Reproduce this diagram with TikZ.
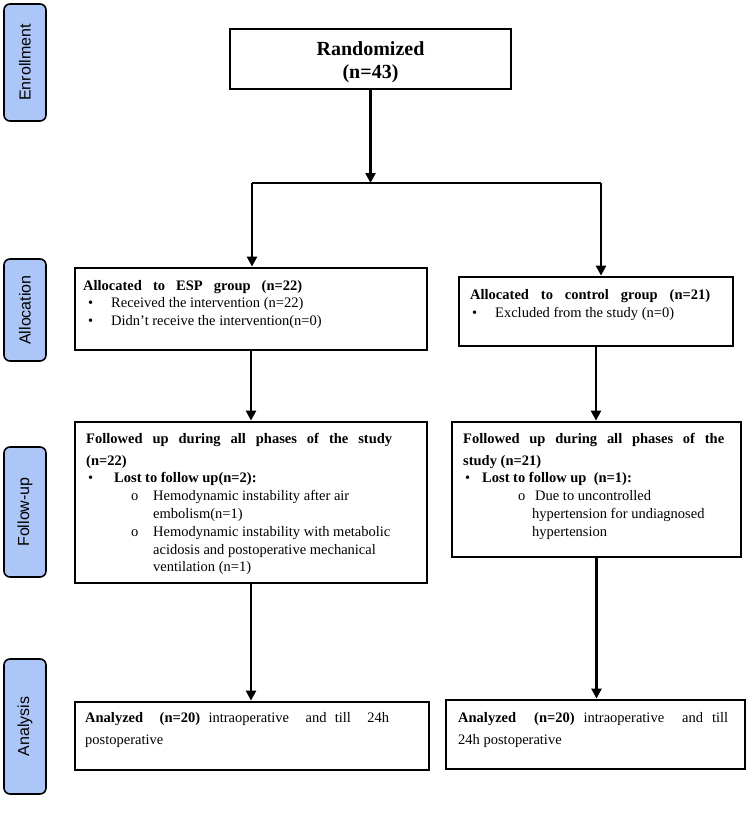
\documentclass[tikz,border=0pt]{standalone}
\usepackage{fontspec}
\setmainfont{Liberation Serif}
\newfontfamily\arialfont{Liberation Sans}
\usetikzlibrary{arrows.meta}
\definecolor{sideblue}{RGB}{173,198,248}
\tikzset{
  box/.style 2 args={draw, line width=2.8pt, rectangle, inner sep=0pt, minimum width=#1, minimum height=#2},
  side/.style={draw, line width=1.6pt, fill=sideblue, rounded corners=6pt, rotate=90, minimum height=42pt, inner sep=0pt, font=\arialfont\fontsize{16}{19}\selectfont},
  txt/.style={anchor=north west, inner sep=0pt, align=left, font=\fontsize{14.5}{17.8}\selectfont},
  ttl/.style={anchor=north, inner sep=0pt, align=center, font=\bfseries\fontsize{20}{23}\selectfont},
  arr/.style={line width=2.6pt, -{Triangle[length=10pt,width=10pt]}},
  hline/.style={line width=1.8pt}
}
\begin{document}
\begin{tikzpicture}[x=1pt,y=-1pt]
\useasboundingbox (0,0) rectangle (750,817);
% phase labels
\node[side, minimum width=117pt] (enr) at (25,62.5) {Enrollment};
\node[side, minimum width=102pt] (alc) at (25,310) {Allocation};
\node[side, minimum width=130pt] (fol) at (25,512) {Follow-up};
\node[side, minimum width=135pt] (ana) at (25,726.5) {Analysis};
% boxes
\node[box={281pt}{60pt}] (rand) at (370.5,59) {};
\node[box={352pt}{82pt}] (esp) at (251,309) {};
\node[box={274pt}{69pt}] (ctl) at (596,311.5) {};
\node[box={352pt}{161pt}] (fu1) at (251,502.5) {};
\node[box={289pt}{135pt}] (fu2) at (596.5,489.5) {};
\node[box={354pt}{68pt}] (an1) at (252,736) {};
\node[box={299pt}{69pt}] (an2) at (595.5,734.5) {};
% texts
\node[ttl] (randt) at (370.5,39.4) {\strut Randomized\\(n=43)};
\node[txt] (espt) at (83,277.5) {\strut\makebox[219pt][s]{\bfseries Allocated to ESP group (n=22)}\\
\hspace*{5pt}\makebox[23pt][l]{•}Received the intervention\ (n=22)\\
\hspace*{5pt}\makebox[23pt][l]{•}Didn’t receive the intervention(n=0)};
\node[txt] (ctlt) at (470,287) {\strut\makebox[240pt][s]{\bfseries Allocated to control group (n=21)}\\
\hspace*{2pt}\makebox[23pt][l]{•}Excluded from the study (n=0)};
\node[txt] (fu1t) at (86,430.8) {\strut\makebox[306pt][s]{\bfseries Followed up during all phases of the study}\\[3.9pt]
\textbf{(n=22)}\\
\hspace*{2pt}\makebox[26pt][l]{•}\textbf{Lost to follow up(n=2):}\\
\hspace*{45pt}\makebox[22pt][l]{o}Hemodynamic\ instability\ after air\\
\hspace*{67pt}embolism(n=1)\\
\hspace*{45pt}\makebox[22pt][l]{o}Hemodynamic\ instability\ with metabolic\\
\hspace*{67pt}acidosis and postoperative mechanical\\
\hspace*{67pt}ventilation\ (n=1)};
\node[txt] (fu2t) at (463,430.8) {\strut\makebox[261pt][s]{\bfseries Followed up during all phases of the}\\[3.9pt]
\textbf{study (n=21)}\\
\hspace*{2pt}\makebox[17pt][l]{•}\textbf{Lost to follow up\ \ (n=1):}\\
\hspace*{55pt}\makebox[17pt][l]{o}Due to uncontrolled\\
\hspace*{69pt}hypertension for undiagnosed\\
\hspace*{69pt}hypertension};
\node[txt] (an1t) at (85,709.5) {\strut\makebox[304pt][s]{\bfseries Analyzed\ \ (n=20)\mdseries\ intraoperative\ \ and till\ \ 24h}\\[4.8pt]
postoperative};
\node[txt] (an2t) at (458,709.5) {\strut\makebox[270pt][s]{\bfseries Analyzed\ \ (n=20)\mdseries\ intraoperative\ \ and till}\\[4.8pt]
24h postoperative};
% connectors
\coordinate (jl) at (252,183);
\coordinate (jr) at (601,183);
\draw[hline] (jl) -- (jr);
\draw[arr] (rand.south) -- (rand.south |- jl);
\draw[arr] (jl) -- (jl |- esp.north);
\draw[arr] (jr) -- (jr |- ctl.north);
\draw[arr] (esp.south) -- (fu1.north);
\draw[arr] (ctl.south) -- (ctl.south |- fu2.north);
\draw[arr] (fu1.south) -- (fu1.south |- an1.north);
\draw[arr] (fu2.south) -- (fu2.south |- an2.north);
\end{tikzpicture}
\end{document}
